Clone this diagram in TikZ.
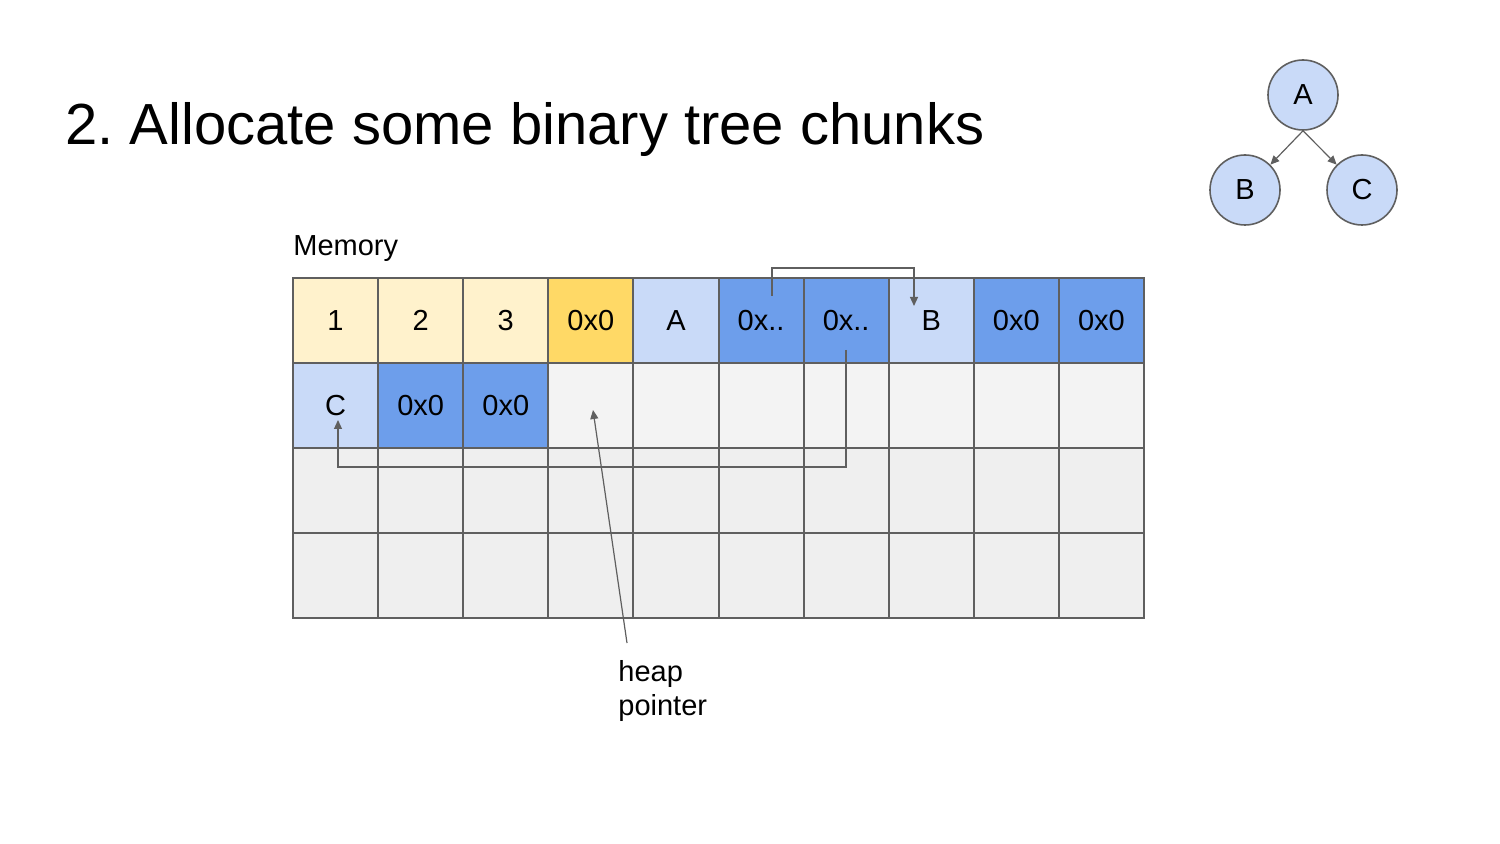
\documentclass[tikz,border=0pt]{standalone}
\usepackage{fontspec}
\setmainfont{Liberation Sans}
\usetikzlibrary{arrows.meta}
\definecolor{ly}{HTML}{FFF2CC}
\definecolor{gold}{HTML}{FFD966}
\definecolor{lb}{HTML}{C9DAF8}
\definecolor{bl}{HTML}{6D9EEB}
\definecolor{e1}{HTML}{F3F3F3}
\definecolor{e2}{HTML}{EFEFEF}
\definecolor{ln}{HTML}{5F5F5F}
\frenchspacing
\begin{document}
\begin{tikzpicture}[x=0.5pt,y=-0.5pt,
  cellbox/.style={draw=ln,line width=1pt,inner sep=0pt,outer sep=0pt,minimum width=42.55pt,minimum height=42.5pt,font=\fontsize{14.5}{17}\selectfont},
  arr/.style={draw=ln,line width=0.6pt,-{Triangle[length=4.5pt,width=4pt]}},
  treenode/.style={circle,draw=ln,line width=0.8pt,fill=lb,minimum size=35pt,inner sep=0pt,font=\fontsize{14.5}{17}\selectfont}]
\useasboundingbox (0,0) rectangle (1500,844);
\node[anchor=base west,inner sep=0pt,font=\fontsize{29}{34}\selectfont] (title) at (65,145) {2. Allocate some binary tree chunks};
\node[anchor=base west,inner sep=0pt,font=\fontsize{14.5}{17}\selectfont] (memlabel) at (293,256) {Memory};
% cells
\foreach \t/\f [count=\i from 0] in {1/ly,2/ly,3/ly,0x0/gold,A/lb,0x../bl,0x../bl,B/lb,0x0/bl,0x0/bl}{
  \node[cellbox,fill=\f] (c0-\i) at ({293+85.1*(\i+0.5)},{278+85*0.5}) {\t};
}
\foreach \t/\f [count=\i from 0] in {C/lb,0x0/bl,0x0/bl,/e1,/e1,/e1,/e1,/e1,/e1,/e1}{
  \node[cellbox,fill=\f] (c1-\i) at ({293+85.1*(\i+0.5)},{278+85*1.5}) {\t};
}
\foreach \r in {2,3}{
  \foreach \i in {0,...,9}{
    \node[cellbox,fill=e2] (c\r-\i) at ({293+85.1*(\i+0.5)},{278+85*(\r+0.5)}) {};
  }
}
% pointer arrows
\coordinate (s1) at (772,296);
\coordinate (e1) at (914,306);
\draw[arr] (s1) -- (772,268) -| (e1);
\coordinate (s2) at (846,350);
\coordinate (e2) at (338,420);
\draw[arr] (s2) -- (846,467) -| (e2);
% heap pointer
\node[anchor=north west,inner sep=0pt,align=left,font=\fontsize{14.5}{17}\selectfont] (hp) at (618,660) {heap\\pointer};
\coordinate (hs) at (627,643);
\coordinate (he) at (593,410);
\draw[arr] (hs) -- (he);
% tree
\node[treenode] (A) at (1303,95) {A};
\node[treenode] (B) at (1245,190) {B};
\node[treenode] (C) at (1362,190) {C};
\draw[arr] (A.south) -- (B.north east);
\draw[arr] (A.south) -- (C.north west);
\end{tikzpicture}
\end{document}
